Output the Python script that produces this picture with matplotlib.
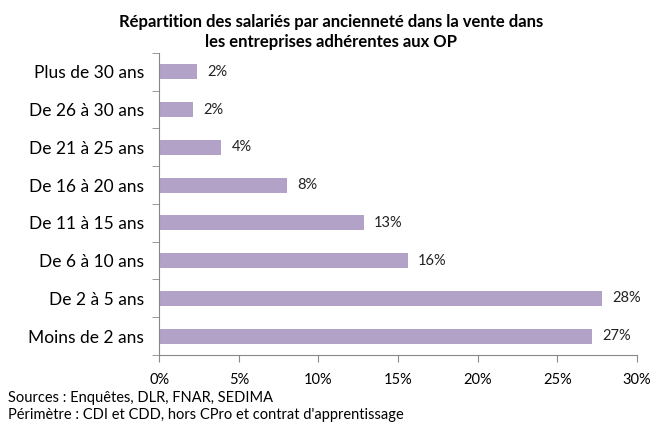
import matplotlib.pyplot as plt
import numpy as np

categories = ['Moins de 2 ans', 'De 2 à 5 ans', 'De 6 à 10 ans', 'De 11 à 15 ans',
              'De 16 à 20 ans', 'De 21 à 25 ans', 'De 26 à 30 ans', 'Plus de 30 ans']
values = [27.2, 27.8, 15.6, 12.85, 8.0, 3.9, 2.1, 2.4]
labels = ['27%', '28%', '16%', '13%', '8%', '4%', '2%', '2%']
xticks = [0, 5, 10, 15, 20, 25, 30]

plt.rcParams['font.family'] = ['Lato', 'DejaVu Sans']

fig = plt.figure(figsize=(6.69, 4.26), dpi=100)
ax = fig.add_axes([0.238, 0.1667, 0.714, 0.709])

y = np.arange(len(categories))
ax.barh(y, values, height=0.4, color='#b3a2c7')

# étiquettes de valeur
for yi, v, lab in zip(y, values, labels):
    ax.text(v + 0.65, yi, lab, va='center', ha='left', fontsize=10.5, color='#222222')

ax.set_xlim(0, 30)
ax.set_ylim(-0.5, len(categories) - 0.5)
ax.set_xticks(xticks)
ax.set_xticklabels([f'{t}%' for t in xticks], fontsize=10.5)
ax.set_yticks(y)
ax.set_yticklabels(categories, fontsize=12.5)
ax.tick_params(axis='y', length=0, pad=11)
ax.set_yticks(np.arange(-0.5, len(categories), 1), minor=True)
ax.tick_params(axis='y', which='minor', length=5, color='#888888')
ax.tick_params(axis='x', length=5, color='#888888', pad=8)

for s in ['top', 'right']:
    ax.spines[s].set_visible(False)
for s in ['left', 'bottom']:
    ax.spines[s].set_color('#888888')

fig.text(0.495, 0.925, 'Répartition des salariés par ancienneté dans la vente dans\nles entreprises adhérentes aux OP',
         ha='center', va='center', fontsize=12, fontweight='bold', linespacing=1.3)

fig.text(0.012, 0.065, 'Sources : Enquêtes, DLR, FNAR, SEDIMA', fontsize=10.5, va='center')
fig.text(0.012, 0.025, "Périmètre : CDI et CDD, hors CPro et contrat d'apprentissage", fontsize=10.5, va='center')

fig.savefig('out.png', dpi=100)
